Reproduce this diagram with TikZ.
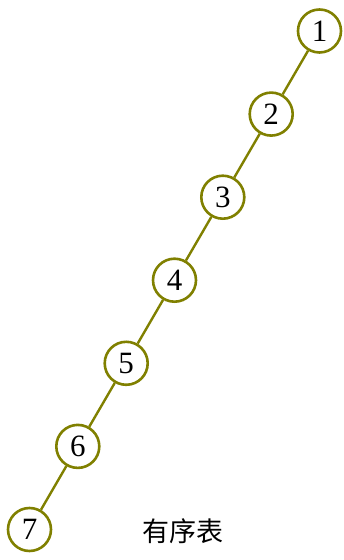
\documentclass[tikz,border=0pt]{standalone}
\usepackage{fontspec}
\setmainfont{Liberation Serif}
\newfontfamily\cjk{Noto Sans CJK SC}
\definecolor{olivec}{HTML}{808000}
\begin{document}
\begin{tikzpicture}[x=1pt,y=1pt,
  nd/.style={circle,draw=olivec,line width=2.6pt,fill=white,minimum size=43pt,inner sep=0pt,font=\fontsize{31}{31}\selectfont},
  edge/.style={draw=olivec,line width=2.4pt}]
\useasboundingbox (0,0) rectangle (344,560);
\node[nd] (n1) at (319.5,529) {1};
\node[nd] (n2) at (271.2,445.9) {2};
\node[nd] (n3) at (222.8,362.8) {3};
\node[nd] (n4) at (174.5,279.8) {4};
\node[nd] (n5) at (126.2,196.7) {5};
\node[nd] (n6) at (77.8,113.6) {6};
\node[nd] (n7) at (29.5,30.5) {7};
\node[font=\cjk\fontsize{27}{27}\selectfont] (lbl) at (183,29) {有序表};
\draw[edge] (n1) -- (n2);
\draw[edge] (n2) -- (n3);
\draw[edge] (n3) -- (n4);
\draw[edge] (n4) -- (n5);
\draw[edge] (n5) -- (n6);
\draw[edge] (n6) -- (n7);
\end{tikzpicture}
\end{document}
